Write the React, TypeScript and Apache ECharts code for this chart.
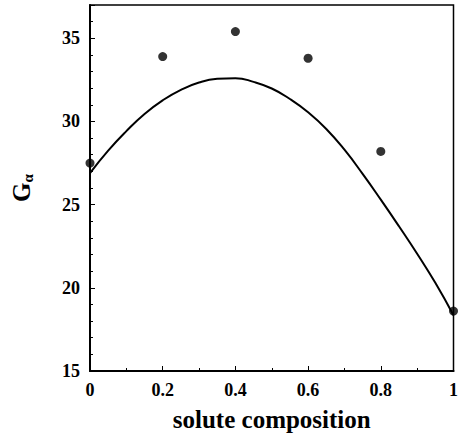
import React, { useEffect, useRef } from "react";
import * as echarts from "echarts";

const pointX = [0, 0.2, 0.4, 0.6, 0.8, 1.0];
const pointY = [27.5, 33.9, 35.4, 33.8, 28.2, 18.6];

const curveX = [0, 0.05, 0.1, 0.15, 0.2, 0.25, 0.3, 0.35, 0.4, 0.45, 0.5, 0.55, 0.6, 0.65, 0.7, 0.75, 0.8, 0.85, 0.9, 0.95, 1.0];
const curveY = [26.9, 28.25, 29.42, 30.45, 31.27, 31.9, 32.34, 32.56, 32.6, 32.38, 31.98, 31.35, 30.55, 29.55, 28.3, 26.85, 25.3, 23.7, 22.05, 20.3, 18.35];

const yTickLabels = ["15", "20", "25", "30", "35"];
const xTickLabels = ["0", "0.2", "0.4", "0.6", "0.8", "1"];

const FONT = "Liberation Serif, Times New Roman, serif";

export default function App() {
  const ref = useRef<HTMLDivElement>(null);
  useEffect(() => {
    document.body.style.margin = "0";
    if (!ref.current) return;
    const chart = echarts.init(ref.current, undefined, { renderer: "svg" });
    const grid = { left: 90, right: 5, top: 5, bottom: 66 };
    chart.setOption({
      animation: false,
      backgroundColor: "#fff",
      textStyle: { fontFamily: FONT },
      grid: { ...grid, show: true, borderColor: "#000", borderWidth: 1.5, backgroundColor: "transparent" },
      xAxis: [
        {
          type: "value",
          min: 0,
          max: 1,
          interval: 0.2,
          name: "solute composition",
          nameLocation: "middle",
          nameGap: 36,
          nameTextStyle: { fontFamily: FONT, fontWeight: "bold", fontSize: 25, color: "#000" },
          axisLine: { show: true, lineStyle: { color: "#000", width: 2 } },
          axisTick: { show: true, inside: true, length: 5, lineStyle: { color: "#000", width: 1 } },
          minorTick: { show: true, splitNumber: 2, length: 3, lineStyle: { color: "#000", width: 1 } },
          splitLine: { show: false },
          axisLabel: {
            margin: 10,
            fontFamily: FONT,
            fontWeight: "bold",
            fontSize: 18,
            color: "#000",
            formatter: (v: number) => {
              const idx = Math.round(v / 0.2);
              return xTickLabels[idx] ?? "";
            },
          },
        },
      ],
      yAxis: [
        {
          type: "value",
          min: 15,
          max: 37,
          interval: 5,
          name: "{g|G}{a|α}",
          nameLocation: "middle",
          nameRotate: 90,
          nameGap: 55,
          nameTextStyle: {
            color: "#000",
            fontFamily: FONT,
            rich: {
              g: { fontFamily: FONT, fontWeight: "bold", fontSize: 25, color: "#000" },
              a: { fontFamily: FONT, fontWeight: "bold", fontSize: 15, color: "#000", verticalAlign: "bottom", padding: [12, 0, 0, 0] },
            },
          },
          axisLine: { show: true, lineStyle: { color: "#000", width: 2 } },
          axisTick: { show: true, inside: true, length: 5, lineStyle: { color: "#000", width: 1 } },
          splitLine: { show: false },
          axisLabel: {
            margin: 10,
            fontFamily: FONT,
            fontWeight: "bold",
            fontSize: 18,
            color: "#000",
            formatter: (v: number) => {
              const s = String(v);
              return yTickLabels.includes(s) ? s : "";
            },
          },
        },
        {
          type: "value",
          min: 15,
          max: 37,
          interval: 1,
          position: "left",
          axisLine: { show: false },
          axisTick: { show: true, inside: true, length: 3, lineStyle: { color: "#000", width: 1 } },
          axisLabel: { show: false },
          splitLine: { show: false },
        },
      ],
      series: [
        {
          type: "line",
          data: curveX.map((x, i) => [x, curveY[i]]),
          smooth: true,
          showSymbol: false,
          lineStyle: { color: "#000", width: 2 },
          clip: false,
        },
        {
          type: "scatter",
          data: pointX.map((x, i) => [x, pointY[i]]),
          symbolSize: 9,
          itemStyle: { color: "#000" },
          clip: false,
        },
      ],
    });
    return () => chart.dispose();
  }, []);
  return <div ref={ref} style={{ width: 461, height: 437 }} />;
}
